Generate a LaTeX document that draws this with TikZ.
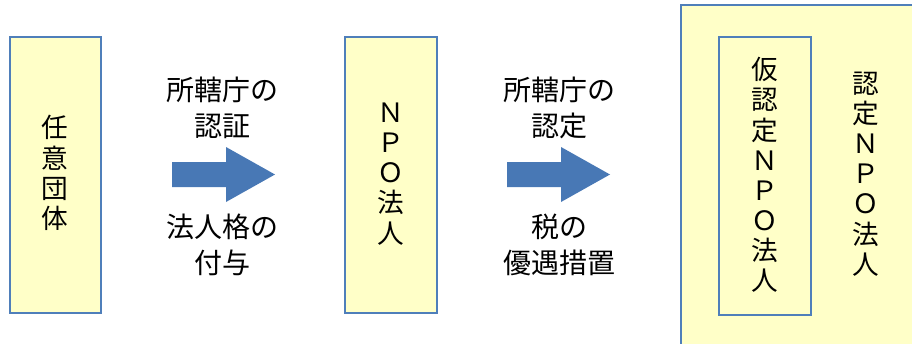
\documentclass[tikz,border=0pt]{standalone}
\usepackage{fontspec}
\newfontfamily\jp{Noto Sans CJK JP}
\definecolor{boxfill}{HTML}{FFFFC8}
\definecolor{boxline}{HTML}{4F7FBA}
\definecolor{arrowfill}{HTML}{4878B5}
\tikzset{
  box/.style={draw=boxline, fill=boxfill, line width=1.8pt},
  vtext/.style={font=\jp\fontsize{20}{22.6}\selectfont, align=center, inner sep=0pt},
  htext/.style={font=\jp\fontsize{21}{27}\selectfont, align=center, inner sep=0pt},
  bigarrow/.style={fill=arrowfill, draw=none}
}
\begin{document}
\begin{tikzpicture}[x=0.75pt, y=-0.75pt]
\useasboundingbox (0,0) rectangle (912,343);
\begin{scope}
\clip (0,0) rectangle (912,343);
\path[box] (681,5) rectangle (930,360);
\end{scope}
\path[box] (10,37) rectangle (101,313);
\path[box] (345,37) rectangle (437,313);
\path[box] (719,37) rectangle (811,315);

\node[vtext] (a) at (55,173) {任\\意\\団\\体};
\node[vtext] (b) at (391,174) {Ｎ\\Ｐ\\Ｏ\\法\\人};
\node[vtext] (c) at (765,175) {仮\\認\\定\\Ｎ\\Ｐ\\Ｏ\\法\\人};
\node[vtext] (d) at (866,174) {認\\定\\Ｎ\\Ｐ\\Ｏ\\法\\人};

\node[htext] (t1) at (222,108) {所轄庁の\\認証};
\node[htext] (t2) at (222,245) {法人格の\\付与};
\node[htext] (t3) at (559,108) {所轄庁の\\認定};
\node[htext] (t4) at (559,245) {税の\\優遇措置};

\fill[bigarrow] (172,162) -- (226,162) -- (226,147) -- (275,174.5) -- (226,202) -- (226,187) -- (172,187) -- cycle;
\fill[bigarrow] (507,162) -- (561,162) -- (561,147) -- (610,174.5) -- (561,202) -- (561,187) -- (507,187) -- cycle;
\end{tikzpicture}
\end{document}
